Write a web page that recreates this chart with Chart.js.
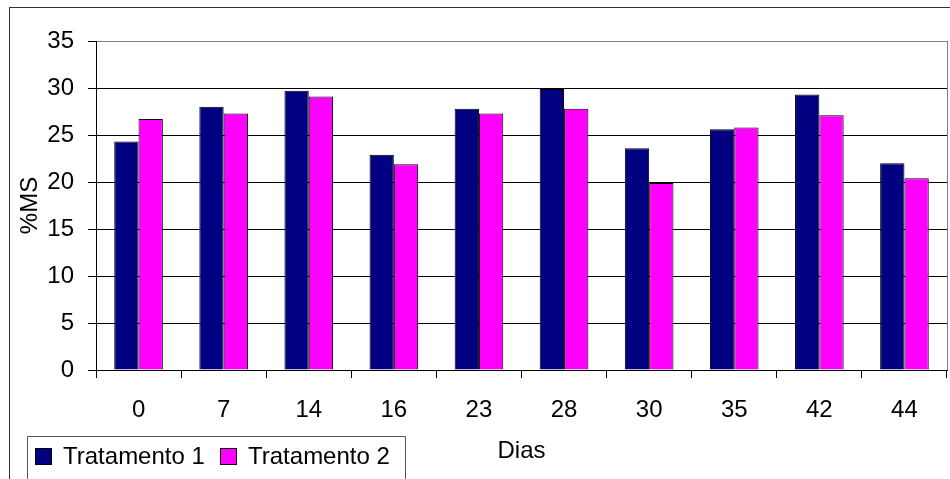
<!DOCTYPE html>
<html>
<head>
<meta charset="utf-8">
<script src="https://cdn.jsdelivr.net/npm/chart.js@4/dist/chart.umd.min.js"></script>
<style>
  html, body { margin: 0; padding: 0; background: #fff; }
  canvas { display: block; }
</style>
</head>
<body>
<canvas id="c" width="950" height="479"></canvas>
<script>
// Dry matter (%MS) by sampling day, two treatments
const dias = ['0', '7', '14', '16', '23', '28', '30', '35', '42', '44'];
const tratamento1 = [24.3, 28.0, 29.7, 22.9, 27.8, 29.9, 23.6, 25.6, 29.3, 22.0];
const tratamento2 = [26.7, 27.3, 29.1, 21.9, 27.3, 27.8, 19.9, 25.8, 27.1, 20.4];
const serieNomes = ['Tratamento 1', 'Tratamento 2'];
const serieCores = ['#000080', '#FF00FF'];
const yTicks = [0, 5, 10, 15, 20, 25, 30, 35];

const FONT = '"Liberation Sans", Arial, sans-serif';

// Outer frame, plot-area right edge and the boxed legend at the bottom-left
const framePlugin = {
  id: 'frame',
  beforeDraw(chart) {
    const ctx = chart.ctx;
    ctx.save();
    ctx.fillStyle = '#fff';
    ctx.fillRect(0, 0, chart.width, chart.height);
    ctx.strokeStyle = '#333';
    ctx.lineWidth = 1;
    ctx.strokeRect(9.5, 7.5, chart.width + 20, chart.height + 20);
    ctx.restore();
  },
  afterDraw(chart) {
    const ctx = chart.ctx;
    const a = chart.chartArea;
    ctx.save();
    ctx.strokeStyle = '#808080';
    ctx.lineWidth = 1;
    ctx.beginPath();
    ctx.moveTo(Math.round(a.right) + 0.5, Math.round(a.top));
    ctx.lineTo(Math.round(a.right) + 0.5, Math.round(a.bottom));
    ctx.stroke();

    // legend box
    ctx.strokeStyle = '#555';
    ctx.fillStyle = '#fff';
    ctx.beginPath();
    ctx.rect(27.5, 436.5, 378, 60);
    ctx.fill();
    ctx.stroke();
    ctx.font = '24px ' + FONT;
    ctx.textBaseline = 'middle';
    const items = [{ mx: 35, tx: 63 }, { mx: 220, tx: 248 }];
    chart.data.datasets.forEach((ds, i) => {
      const it = items[i];
      ctx.fillStyle = ds.backgroundColor;
      ctx.fillRect(it.mx + 0.5, 448.5, 16, 16);
      ctx.strokeStyle = '#000';
      ctx.strokeRect(it.mx + 0.5, 448.5, 16, 16);
      ctx.fillStyle = '#000';
      ctx.fillText(ds.label, it.tx, 457);
    });
    ctx.restore();
  }
};

new Chart(document.getElementById('c'), {
  type: 'bar',
  data: {
    labels: dias,
    datasets: [
      { label: serieNomes[0], data: tratamento1, backgroundColor: serieCores[0] },
      { label: serieNomes[1], data: tratamento2, backgroundColor: serieCores[1] }
    ]
  },
  options: {
    responsive: false,
    animation: false,
    devicePixelRatio: 1,
    layout: { padding: { left: 0, top: 41, right: 3, bottom: 0 } },
    datasets: {
      bar: {
        borderColor: '#000',
        borderWidth: 1,
        barPercentage: 1.0,
        categoryPercentage: 2 / 3.5
      }
    },
    plugins: {
      legend: { display: false },
      tooltip: { enabled: false }
    },
    scales: {
      x: {
        offset: true,
        grid: {
          offset: true,
          drawOnChartArea: false,
          drawTicks: true,
          tickLength: 8,
          color: '#000',
          lineWidth: 1
        },
        border: { color: '#000', width: 1 },
        ticks: {
          color: '#000',
          font: { family: FONT, size: 24 },
          padding: 18,
          maxRotation: 0
        },
        title: {
          display: true,
          text: 'Dias',
          color: '#000',
          font: { family: FONT, size: 24 },
          padding: { top: 0, bottom: 13 }
        },
        afterFit(scale) { scale.height = 109; }
      },
      y: {
        min: 0,
        max: 35,
        afterBuildTicks(scale) { scale.ticks = yTicks.map(v => ({ value: v })); },
        grid: {
          color: (c) => (c.tick && c.tick.value === 35 ? '#808080' : '#000'),
          tickColor: '#000',
          tickLength: 8,
          lineWidth: 1
        },
        border: { color: '#000', width: 1 },
        ticks: {
          color: '#000',
          font: { family: FONT, size: 24 },
          padding: 14
        },
        title: {
          display: true,
          text: '%MS',
          color: '#000',
          font: { family: FONT, size: 24 },
          padding: { top: 16, bottom: 0 }
        },
        afterFit(scale) { scale.width = 96; }
      }
    }
  },
  plugins: [framePlugin]
});
</script>
</body>
</html>
